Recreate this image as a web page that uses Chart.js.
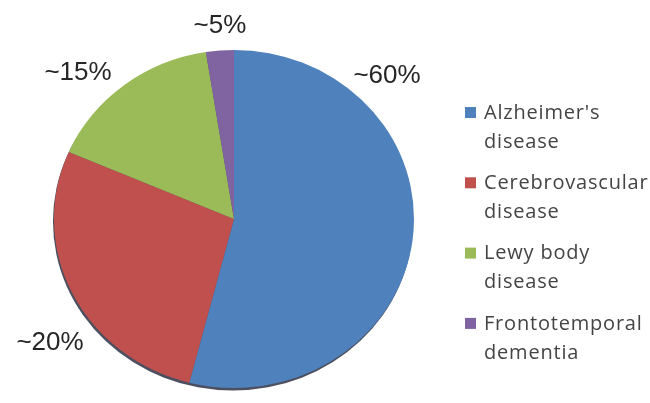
<!DOCTYPE html>
<html>

<head>
    <script src="https://cdn.jsdelivr.net/npm/chart.js@4.3.0/dist/chart.umd.min.js"></script>
    <style>
        html, body { margin: 0; padding: 0; background: #fff; }
        #wrap { width: 650px; height: 403px; position: relative; }
    </style>
</head>

<body>
    <div id="wrap">
        <canvas id="myChart" width="650" height="403"></canvas>
    </div>
    <script>
        // data (slice shares) and the printed labels
        const categories = [
            ["Alzheimer's", "disease"],
            ["Cerebrovascular", "disease"],
            ["Lewy body", "disease"],
            ["Frontotemporal", "dementia"]
        ];
        const shares = [54, 27.5, 16, 2.5];
        const shareLabels = ["~60%", "~20%", "~15%", "~5%"];
        const sliceColors = ["#4F81BD", "#C0504D", "#9BBB59", "#8064A2"];

        // the original pie is a bit wider than tall
        const stretchX = 1.065;

        const ellipsePlugin = {
            id: 'ellipse',
            beforeDatasetsDraw(chart) {
                const ctx = chart.ctx;
                const arc = chart.getDatasetMeta(0).data[0];
                const cx = arc.x, cy = arc.y, r = arc.outerRadius;
                ctx.save();
                ctx.translate(cx, cy);
                ctx.scale(stretchX, 1);
                ctx.translate(-cx, -cy);
                // soft dark rim along the bottom edge
                ctx.beginPath();
                ctx.arc(cx - 1, cy + 2.5, r, 0, Math.PI * 2);
                ctx.fillStyle = 'rgba(30,35,55,0.8)';
                ctx.fill();
            },
            afterDatasetsDraw(chart) {
                chart.ctx.restore();
            }
        };

        const textPlugin = {
            id: 'texts',
            afterDraw(chart, args, opts) {
                const ctx = chart.ctx;
                ctx.save();
                // percentage labels
                ctx.font = '26px "Liberation Sans", Arial, sans-serif';
                ctx.fillStyle = '#262626';
                ctx.textAlign = 'center';
                ctx.textBaseline = 'middle';
                shareLabels.forEach((t, i) => {
                    const p = opts.labelPos[i];
                    ctx.fillText(t, p[0], p[1]);
                });
                // legend
                ctx.font = '20px "Open Sans", sans-serif';
                ctx.letterSpacing = '0.8px';
                ctx.textAlign = 'left';
                categories.forEach((lines, i) => {
                    const y = opts.legendTop + i * opts.entryGap;
                    ctx.fillStyle = sliceColors[i];
                    ctx.fillRect(opts.legendX, y - 6, 11, 11);
                    ctx.fillStyle = '#444';
                    lines.forEach((ln, j) => {
                        ctx.fillText(ln, opts.legendX + 19, y + j * opts.lineGap);
                    });
                });
                ctx.restore();
            }
        };

        (function () {
            new Chart(document.getElementById('myChart'), {
                type: 'pie',
                data: {
                    labels: categories.map(c => c.join(' ')),
                    datasets: [{
                        data: shares,
                        backgroundColor: sliceColors,
                        borderWidth: 0,
                        clip: false
                    }]
                },
                options: {
                    responsive: false,
                    animation: false,
                    layout: {
                        padding: { left: 65, right: 247, top: 50, bottom: 15 }
                    },
                    plugins: {
                        legend: { display: false },
                        tooltip: { enabled: false },
                        texts: {
                            labelPos: [[387, 76], [50, 343], [78, 73], [220, 26]],
                            legendX: 465,
                            legendTop: 113,
                            entryGap: 70.3,
                            lineGap: 29
                        }
                    }
                },
                plugins: [ellipsePlugin, textPlugin]
            });
        })();
    </script>
</body>

</html>
